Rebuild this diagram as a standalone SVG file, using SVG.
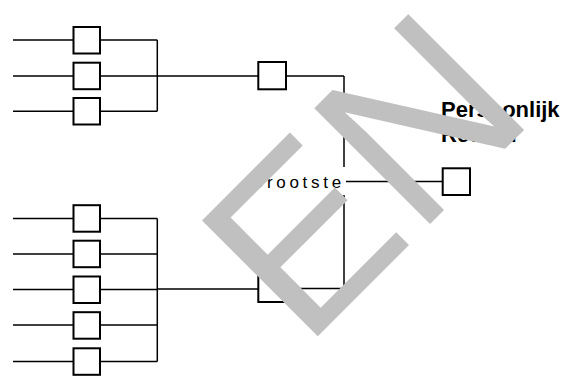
<svg xmlns="http://www.w3.org/2000/svg" width="568" height="376" viewBox="0 0 568 376">
<style>
.box{fill:#fff;stroke:#000;stroke-width:2}
.ln{fill:none;stroke:#000;stroke-width:1.5}
.lbl{font-family:"Liberation Sans",Arial,sans-serif;fill:#000}
.wm{font-family:"Liberation Sans",Arial,sans-serif;fill:#c0c0c0;font-size:238px}
</style>
<rect width="568" height="376" fill="#fff"/>
<g id="connectors" class="ln">
<path d="M13 40H73.5M13 76H73.5M13 111.3H73.5"/>
<path d="M100 40H157.3M100 76H157.3M100 111.3H157.3M157.3 40V111.3M157.3 76H258.3"/>
<path d="M13 218.5H73.5M13 254H73.5M13 289.5H73.5M13 325H73.5M13 361.5H73.5"/>
<path d="M100 218.5H157.3M100 254H157.3M100 289.5H157.3M100 325H157.3M100 361.5H157.3M157.3 218.5V361.5M157.3 289H258.3"/>
<path d="M286 76H344M344 76V288.5M286 288.5H344"/>
<path d="M346 181.5H442.7"/>
</g>
<g id="n1"><rect class="box" x="73.5" y="27" width="26.5" height="26.5"/></g>
<g id="n2"><rect class="box" x="73.5" y="62.7" width="26.5" height="26.5"/></g>
<g id="n3"><rect class="box" x="73.5" y="98" width="26.5" height="26.5"/></g>
<g id="n4"><rect class="box" x="73.5" y="205.2" width="26.5" height="26.5"/></g>
<g id="n5"><rect class="box" x="73.5" y="240.7" width="26.5" height="26.5"/></g>
<g id="n6"><rect class="box" x="73.5" y="276.5" width="26.5" height="26.5"/></g>
<g id="n7"><rect class="box" x="73.5" y="312.2" width="26.5" height="26.5"/></g>
<g id="n8"><rect class="box" x="73.5" y="348.3" width="26.5" height="26.5"/></g>
<g id="n9"><rect class="box" x="258.3" y="62" width="27.7" height="27.3"/></g>
<g id="n10"><rect class="box" x="258.3" y="275" width="27.7" height="27"/></g>
<g id="grootste">
<rect x="248" y="167" width="98" height="28" fill="#fff"/>
<text class="lbl" x="250" y="187.5" font-size="17" letter-spacing="3.7">Grootste</text>
</g>
<g id="n11"><rect class="box" x="442.7" y="168.3" width="27.3" height="26.7"/></g>
<g id="record">
<text class="lbl" x="441" y="116.5" font-size="22" font-weight="bold">Persoonlijk</text>
<text class="lbl" x="441" y="141.5" font-size="22" font-weight="bold">Record</text>
</g>
<g id="watermark">
<text class="wm" transform="translate(304,350) rotate(-45)">EN</text>
</g>
</svg>
